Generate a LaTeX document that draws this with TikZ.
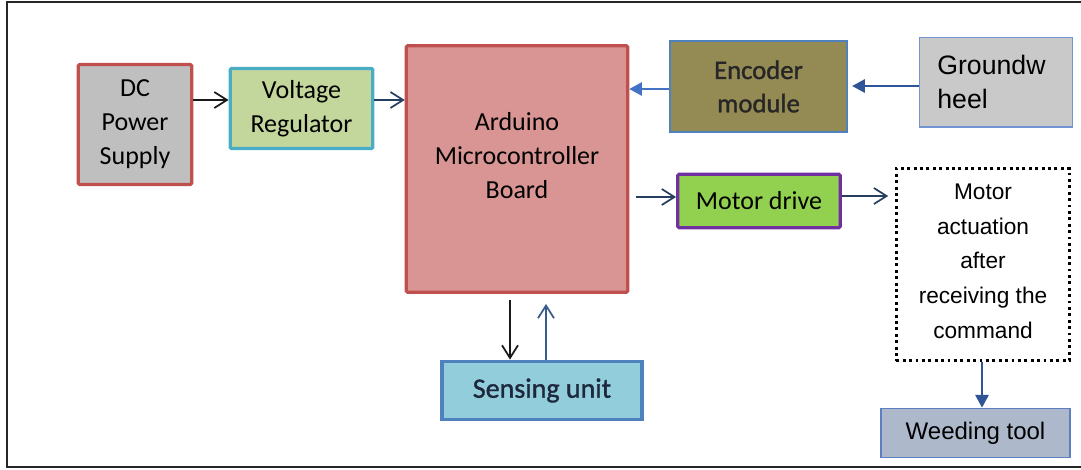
\documentclass[tikz,border=0pt]{standalone}
\usepackage{fontspec}
\setmainfont{Carlito}
\newfontfamily\arialfont{Liberation Sans}
\newfontfamily\semibold[FakeBold=1.2]{Carlito}
\usetikzlibrary{positioning,arrows.meta,calc}
\definecolor{redline}{HTML}{C0504D}
\definecolor{cyanline}{HTML}{4BACC6}
\definecolor{blueline}{HTML}{4F81BD}
\definecolor{navy}{HTML}{243F60}
\definecolor{midblue}{HTML}{2F5597}
\tikzset{
	>={Straight Barb[length=9.5pt,width=12pt,line width=1.3pt]}
}

\begin{document}
\begin{tikzpicture}[
x = 0.75pt,
y = -0.75pt,
every node/.style = {
	font = \fontsize{19.5}{25.5}\selectfont,
	align = center,
	inner sep = 0pt
},
block/.style = {
	draw,
	line width = 2.4pt,
	rounded corners = 1pt
},
thinblock/.style = {
	draw,
	line width = 1.1pt,
	font = \arialfont\fontsize{20}{25.5}\selectfont
},
link/.style = {
	->,
	line width = 1.1pt,
	color = navy
},
solidlink/.style = {
	-{Triangle[length=9.5pt,width=10pt]},
	line width = 1.3pt,
	color = midblue
}
]

\useasboundingbox (0,0) rectangle (1081,469);
\draw[line width=1.6pt, black!85] (1085,2) -| (7,467) -- (1085,467);

\node (dcsupply) [block, draw=redline, fill=black!25, minimum width=85pt, minimum height=90pt] at (135,124.5) {DC\\Power\\Supply};
\node (regulator) [block, draw=cyanline, fill={rgb,255:red,195;green,214;blue,155}, minimum width=107pt, minimum height=60pt] at (301.5,108.5) {Voltage\\Regulator};
\node (arduino) [block, draw=redline, fill={rgb,255:red,217;green,149;blue,148}, minimum width=166pt, minimum height=185pt, text depth=21pt] at (517,169) {Arduino\\Microcontroller\\Board};
\node (encoder) [block, draw=blueline, line width=1.5pt, rounded corners=0pt, fill={rgb,255:red,148;green,138;blue,84}, minimum width=133pt, minimum height=68pt, font=\semibold\fontsize{20}{25}\selectfont, text=black!85] at (758.5,86.5) {Encoder\\module};
\node (groundwheel) [thinblock, draw={rgb,255:red,115;green,149;blue,214}, fill=black!21, minimum width=115pt, minimum height=67pt, align=left, text width=88pt, yshift=2pt] at (996,85) {Groundw\\heel};
\node (motordrive) [block, draw={rgb,255:red,112;green,48;blue,160}, fill={rgb,255:red,146;green,208;blue,80}, minimum width=122pt, minimum height=40pt] at (759,201) {Motor drive};
\node (actuation) [draw, line width=2.2pt, dash pattern=on 2.2pt off 2.6pt, minimum width=130pt, minimum height=144pt, font=\arialfont\fontsize{17}{26}\selectfont, text depth=5pt] at (983,264.5) {Motor\\actuation\\after\\receiving the\\command};
\node (sensing) [block, draw=blueline, rounded corners=0pt, fill={rgb,255:red,146;green,205;blue,220}, minimum width=150pt, minimum height=44pt, font=\semibold\fontsize{21}{25}\selectfont, text={rgb,255:red,30;green,40;blue,60}] at (542,390.5) {Sensing unit};
\node (weeding) [thinblock, draw={rgb,255:red,91;green,127;blue,192}, fill={rgb,255:red,173;green,185;blue,202}, minimum width=142pt, minimum height=37pt, font=\arialfont\fontsize{18}{22}\selectfont] at (975.5,433) {Weeding tool};

\draw[link, color=black!90] (dcsupply.east |- 0,100) -- (regulator.west |- 0,100);
\draw[link] (regulator.east |- 0,100) -- (arduino.west |- 0,100);
\draw[solidlink, color={rgb,255:red,68;green,114;blue,196}] (encoder.west |- 0,89) -- (arduino.east |- 0,89);
\draw[solidlink, shorten >=3pt] (groundwheel.west |- 0,86) -- (encoder.east |- 0,86);
\draw[link, shorten <=5pt] (arduino.east |- 0,197) -- (motordrive.west |- 0,197);
\draw[link, shorten >=5pt] (motordrive.east |- 0,196) -- (actuation.west |- 0,196);
\draw[link, color=black!90, shorten <=4.5pt] (arduino.south -| 510,0) -- (sensing.north -| 510,0);
\draw[link, color={rgb,255:red,56;green,93;blue,138}, shorten >=7.5pt] (sensing.north -| 546,0) -- (arduino.south -| 546,0);
\draw[solidlink] (actuation.south -| 982,0) -- (weeding.north -| 982,0);

\end{tikzpicture}
\end{document}
